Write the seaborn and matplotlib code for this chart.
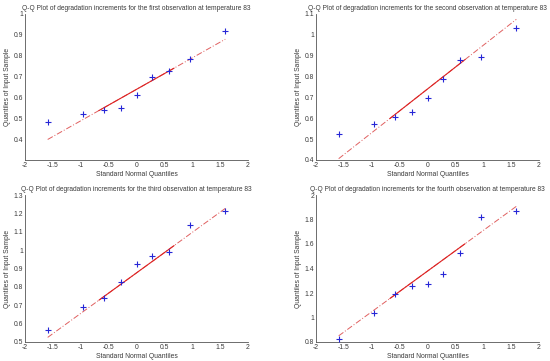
import numpy as np
import pandas as pd
import matplotlib
matplotlib.use("Agg")
import matplotlib.pyplot as plt
import seaborn as sns
from matplotlib.ticker import FuncFormatter

titles = [
    "Q-Q Plot of degradation increments for the first observation at temperature 83",
    "Q-Q Plot of degradation increments for the second observation at temperature 83",
    "Q-Q Plot of degradation increments for the third observation at temperature 83",
    "Q-Q Plot of degradation increments for the fourth observation at temperature 83",
]
obs1 = [0.480, 0.522, 0.542, 0.549, 0.610, 0.700, 0.726, 0.784, 0.920]
obs2 = [0.525, 0.572, 0.608, 0.628, 0.698, 0.790, 0.878, 0.893, 1.035]
obs3 = [0.567, 0.690, 0.740, 0.828, 0.924, 0.968, 0.988, 1.135, 1.212]
obs4 = [0.828, 1.035, 1.195, 1.255, 1.275, 1.355, 1.530, 1.820, 1.870]
series = [obs1, obs2, obs3, obs4]
ylims = [(0.3, 1.0), (0.4, 1.1), (0.5, 1.3), (0.8, 2.0)]
yticks = [
    [0.4, 0.5, 0.6, 0.7, 0.8, 0.9, 1.0],
    [0.4, 0.5, 0.6, 0.7, 0.8, 0.9, 1.0, 1.1],
    [0.5, 0.6, 0.7, 0.8, 0.9, 1.0, 1.1, 1.2, 1.3],
    [0.8, 1.0, 1.2, 1.4, 1.6, 1.8, 2.0],
]
xticks = [-2, -1.5, -1, -0.5, 0, 0.5, 1, 1.5, 2]


def norm_ppf(p):
    # Acklam's rational approximation for the inverse normal CDF
    a = [-3.969683028665376e+01, 2.209460984245205e+02, -2.759285104469687e+02,
         1.383577518672690e+02, -3.066479806614716e+01, 2.506628277459239e+00]
    b = [-5.447609879822406e+01, 1.615858368580409e+02, -1.556989798598866e+02,
         6.680131188771670e+01, -1.328068155288572e+01]
    c = [-7.784894002430293e-03, -3.223964580411365e-01, -2.400758277161838e+00,
         -2.549671010862414e+00, 4.374664141464968e+00, 2.938163982698783e+00]
    d = [7.784695709041462e-03, 3.224671290700398e-01, 2.445134137142996e+00,
         3.754408661907416e+00]
    plow = 0.02425
    out = []
    for q in np.atleast_1d(p):
        if q < plow:
            r = np.sqrt(-2 * np.log(q))
            v = (((((c[0]*r+c[1])*r+c[2])*r+c[3])*r+c[4])*r+c[5]) / ((((d[0]*r+d[1])*r+d[2])*r+d[3])*r+1)
        elif q > 1 - plow:
            r = np.sqrt(-2 * np.log(1 - q))
            v = -(((((c[0]*r+c[1])*r+c[2])*r+c[3])*r+c[4])*r+c[5]) / ((((d[0]*r+d[1])*r+d[2])*r+d[3])*r+1)
        else:
            r = q - 0.5
            s = r * r
            v = (((((a[0]*s+a[1])*s+a[2])*s+a[3])*s+a[4])*s+a[5])*r / (((((b[0]*s+b[1])*s+b[2])*s+b[3])*s+b[4])*s+1)
        out.append(v)
    return np.array(out)


def prctile(y, p):
    y = np.sort(np.asarray(y))
    n = len(y)
    pos = p / 100 * n + 0.5
    lo = int(np.floor(pos))
    frac = pos - lo
    return y[lo - 1] + frac * (y[lo] - y[lo - 1])


sns.set_style("white")
plt.rcParams["font.family"] = ["Liberation Sans", "DejaVu Sans"]
plt.rcParams["xtick.direction"] = "in"
plt.rcParams["ytick.direction"] = "in"

fig = plt.figure(figsize=(5.5, 3.61), dpi=100)
W, H = 550, 361
boxes = [(25, 14, 248, 160), (316, 14, 539, 160), (25, 195, 248, 342), (316, 195, 539, 342)]
fmt = FuncFormatter(lambda v, _: f"{v:g}")
textc = "#3a3a3a"

for i in range(4):
    l, t, r, b = boxes[i]
    ax = fig.add_axes([l / W, 1 - b / H, (r - l) / W, (b - t) / H])
    y = np.sort(np.array(series[i]))
    n = len(y)
    x = norm_ppf((np.arange(1, n + 1) - 0.5) / n)
    q1, q3 = prctile(y, 25), prctile(y, 75)
    z1, z3 = norm_ppf([0.25, 0.75])
    slope = (q3 - q1) / (z3 - z1)
    icpt = q1 - slope * z1
    full = pd.DataFrame({"x": [x[0], x[-1]]})
    full["y"] = icpt + slope * full["x"]
    mid = pd.DataFrame({"x": [z1, z3]})
    mid["y"] = icpt + slope * mid["x"]
    sns.lineplot(data=full, x="x", y="y", ax=ax, color="#e06060", lw=0.7,
                 linestyle=(0, (6, 2, 1, 2)), estimator=None)
    sns.lineplot(data=mid, x="x", y="y", ax=ax, color="#dd2222", lw=0.8, estimator=None)
    pts = pd.DataFrame({"x": x, "y": y})
    sns.scatterplot(data=pts, x="x", y="y", ax=ax, marker="+", color="#2626d6",
                    s=22, linewidth=0.8, zorder=3)
    ax.set_xlim(-2, 2)
    ax.set_ylim(*ylims[i])
    ax.set_xticks(xticks)
    ax.set_yticks(yticks[i])
    ax.xaxis.set_major_formatter(fmt)
    ax.yaxis.set_major_formatter(fmt)
    ax.tick_params(labelsize=4.9, colors=textc, length=2, width=0.5, pad=1.5)
    for s in ["top", "right"]:
        ax.spines[s].set_visible(False)
    for s in ["left", "bottom"]:
        ax.spines[s].set_color("#555555")
        ax.spines[s].set_linewidth(0.6)
    ax.set_title(titles[i], fontsize=4.8, color=textc, pad=3)
    ax.set_xlabel("Standard Normal Quantiles", fontsize=4.9, color=textc, labelpad=1.5)
    ax.set_ylabel("Quantiles of Input Sample", fontsize=4.9, color=textc, labelpad=2)

fig.savefig("out.png", dpi=100)
